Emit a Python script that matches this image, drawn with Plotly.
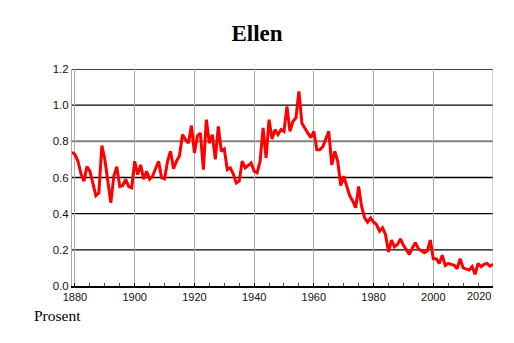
import plotly.graph_objects as go

years = list(range(1879, 2021))
values = [
    0.74, 0.727, 0.69, 0.62, 0.58, 0.66, 0.635, 0.56, 0.50, 0.515,   # 1879-1888
    0.777, 0.70, 0.58, 0.46, 0.607, 0.66, 0.55, 0.556, 0.59, 0.55,   # 1889-1898
    0.543, 0.69, 0.616, 0.67, 0.59, 0.635, 0.59, 0.607, 0.65, 0.69,  # 1899-1908
    0.598, 0.593, 0.69, 0.745, 0.648, 0.69, 0.72, 0.837, 0.81, 0.79, # 1909-1918
    0.887, 0.736, 0.83, 0.846, 0.644, 0.92, 0.79, 0.837, 0.70, 0.883, # 1919-1928
    0.745, 0.758, 0.644, 0.653, 0.62, 0.57, 0.58, 0.69, 0.653, 0.665, # 1929-1938
    0.68, 0.635, 0.626, 0.69, 0.874, 0.708, 0.92, 0.813, 0.865, 0.837, # 1939-1948
    0.865, 0.855, 0.993, 0.855, 0.91, 0.93, 1.076, 0.90, 0.87, 0.845,  # 1949-1958
    0.82, 0.855, 0.754, 0.754, 0.77, 0.81, 0.855, 0.67, 0.745, 0.69,   # 1959-1968
    0.556, 0.607, 0.55, 0.50, 0.47, 0.433, 0.55, 0.44, 0.377, 0.353,   # 1969-1978
    0.377, 0.353, 0.34, 0.303, 0.322, 0.285, 0.188, 0.254, 0.217, 0.23, # 1979-1988
    0.26, 0.225, 0.20, 0.175, 0.21, 0.24, 0.206, 0.193, 0.184, 0.193,  # 1989-1998
    0.254, 0.151, 0.151, 0.125, 0.17, 0.114, 0.125, 0.12, 0.114, 0.096, # 1999-2008
    0.151, 0.10, 0.092, 0.088, 0.107, 0.065, 0.125, 0.107, 0.12, 0.125, # 2009-2018
    0.11, 0.12,                                                          # 2019-2020
]

x_ticks = [1880, 1900, 1920, 1940, 1960, 1980, 2000, 2020]
y_ticks = [0.0, 0.2, 0.4, 0.6, 0.8, 1.0, 1.2]
title_text = "Ellen"
unit_text = "Prosent"

W, H = 506, 335  # page body has an 8px margin

fig = go.Figure()
fig.add_trace(go.Scatter(x=years, y=values, mode="lines",
                         line=dict(color="#ff0000", width=3),
                         hoverinfo="skip", showlegend=False))

# horizontal grid lines (dark), 0.8 drawn grey and thicker as in the original
for v in y_ticks[1:]:
    grey = abs(v - 0.8) < 1e-9
    fig.add_shape(type="line", xref="paper", yref="y", x0=0, x1=1, y0=v, y1=v,
                  line=dict(color="#808080" if grey else "#000000", width=2 if grey else 1.3),
                  layer="between")

fig.add_annotation(x=2020, y=0, xref="x", yref="y", text="2020", showarrow=False,
                   xanchor="right", yanchor="top", yshift=-2,
                   font=dict(family="Liberation Sans, Arial", size=11, color="#111111"))
fig.add_annotation(x=-0.096, y=-0.138, xref="paper", yref="paper", text=unit_text,
                   showarrow=False, xanchor="left", yanchor="middle",
                   font=dict(family="Liberation Serif, Times New Roman", size=15.5, color="#000000"))

fig.update_layout(
    width=W, height=H,
    margin=dict(l=64, r=21, t=61, b=57),
    paper_bgcolor="white", plot_bgcolor="white",
    title=dict(text="<b>" + title_text + "</b>", x=249 / W, xref="container", xanchor="center",
               y=1 - 25 / H, yref="container", yanchor="middle",
               font=dict(family="Liberation Serif, Times New Roman", size=23, color="#000000")),
    xaxis=dict(range=[1879, 2020], tickvals=x_ticks[:-1], ticktext=[str(t) for t in x_ticks[:-1]],
               showgrid=True, gridcolor="#aaaaaa", gridwidth=1,
               showline=True, linecolor="#000000", linewidth=2,
               ticks="inside", ticklen=3, tickcolor="#000000",
               minor=dict(dtick=5, tick0=1880, ticks="inside", ticklen=3, tickcolor="#555555", showgrid=False),
               tickfont=dict(family="Liberation Sans, Arial", size=11, color="#111111"),
               zeroline=False, fixedrange=True),
    yaxis=dict(range=[0, 1.2], tickvals=y_ticks, ticktext=["%.1f" % v for v in y_ticks],
               showgrid=False, showline=True, linecolor="#aaaaaa", linewidth=1,
               ticks="", tickfont=dict(family="Liberation Sans, Arial", size=11.5, color="#111111"),
               zeroline=False, fixedrange=True),
)
# right-edge grid line at 2020
fig.add_shape(type="line", xref="x", yref="paper", x0=2020, x1=2020, y0=0, y1=1,
              line=dict(color="#aaaaaa", width=1), layer="below")

fig.write_html("out.html")
